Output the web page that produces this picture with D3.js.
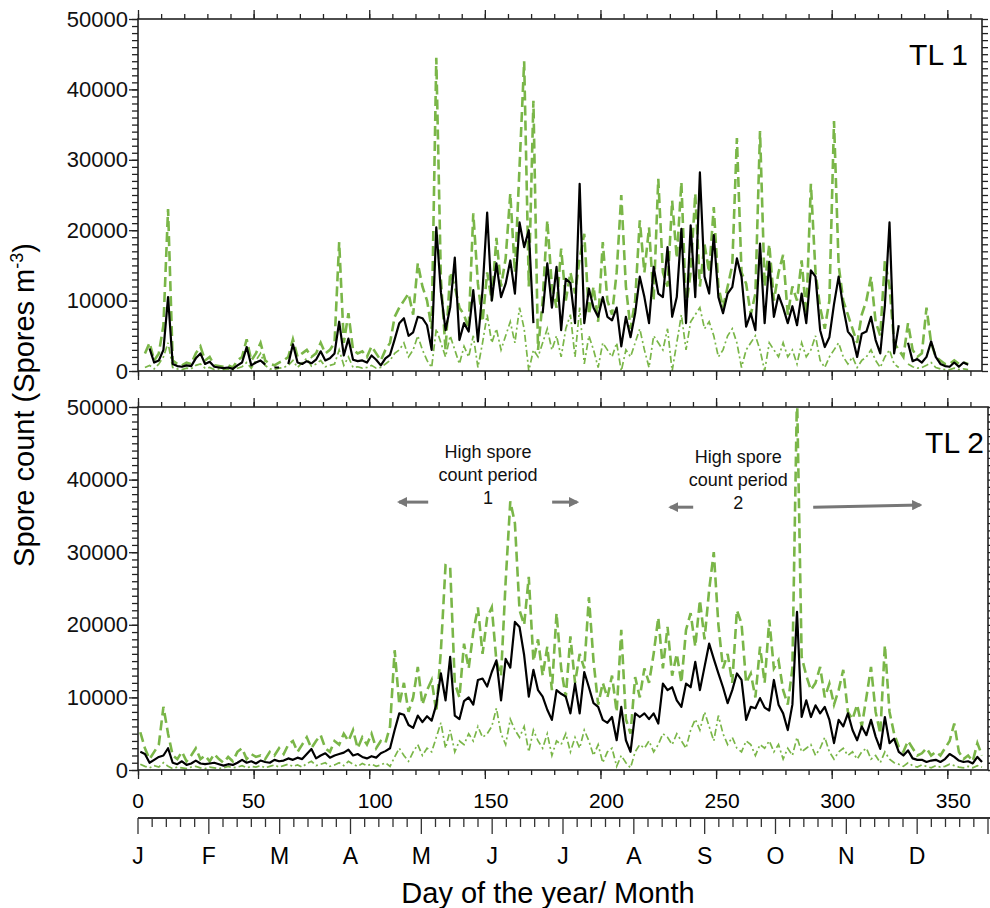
<!DOCTYPE html>
<meta charset="utf-8">
<style>
body { margin: 0; background: #fff; }
svg { font-family: "Liberation Sans", Arial, sans-serif; }
.frame { fill: none; stroke: #222; stroke-width: 1.6px; }
.axis path { display: none; }
.axis line { stroke: #222; stroke-width: 1.3px; }
.axis text { font-size: 22px; fill: #111; font-family: "Liberation Sans", Arial, sans-serif; }
.mean { fill: none; stroke: #000; stroke-width: 2.2px; stroke-linejoin: round; }
.upper { fill: none; stroke: #7ab648; stroke-width: 2.6px; stroke-dasharray: 10,5; }
.lower { fill: none; stroke: #7ab648; stroke-width: 1.7px; stroke-dasharray: 7,3,2,3; }
.note { font-size: 18px; fill: #111; text-anchor: middle; }
.arrow { stroke: #777; stroke-width: 3px; fill: none; }
</style>
<body>
<script src="https://d3js.org/d3.v7.min.js"></script>
<script>

// sample days (every second day of the year)
var days = d3.range(1, 366, 2);

// spore counts, thousands of spores m-3, one value per sample day (null = no data)
// TL 1
var tl1Mean = [
  null, null, 3.2, 1.2, 1.5, 3.0, 10.5, 1.0, 0.7, 0.6,
  0.8, 0.7, 1.8, 2.5, 1.0, 1.3, 0.6, 0.5, 0.4, 0.5,
  0.3, 0.8, 1.2, 3.4, 0.8, 1.2, 1.5, 0.9, null, 0.5,
  0.5, null, 1.0, 3.8, 1.2, 1.0, 1.4, 1.1, 1.6, 2.8,
  1.5, 1.8, 2.5, 7.0, 2.2, 4.6, 1.6, 1.4, 1.5, 1.2,
  2.2, 1.6, 0.8, 1.8, 2.3, 4.5, 6.8, 7.5, 5.0, 5.5,
  7.7, 7.5, 6.5, 3.0, 20.4, 11.2, 5.8, 9.0, 16.1, 4.4,
  6.8, 5.6, 11.5, 4.2, 11.5, 22.5, 10.0, 15.3, 10.5, 12.4,
  15.7, 11.0, 21.1, 17.6, 20.0, 6.8, null, 8.2, 15.3, 9.0,
  14.8, 5.8, 13.1, 12.5, 6.8, 26.6, 6.8, 11.7, 9.0, 7.7,
  10.5, 7.7, 7.2, 9.0, 3.5, 7.7, 4.8, 8.2, 13.4, 10.5,
  6.8, 14.8, 11.0, 10.5, 17.6, 7.7, 10.5, 20.2, 6.8, 20.7,
  10.5, 28.2, 13.4, 11.0, 19.3, 10.5, 8.2, 11.0, 11.9, 16.0,
  13.4, 6.3, 8.2, 5.8, 18.1, 6.8, 15.5, 7.7, 10.8, 9.0,
  6.8, 9.2, 6.5, 11.0, 6.8, 14.3, 13.4, 5.8, 3.4, 4.8,
  9.5, 13.4, 9.0, 5.6, 4.8, 2.0, 5.3, 5.6, 7.7, 4.4,
  2.5, 9.3, 21.1, 2.5, 6.5, null, 4.0, 1.4, 1.7, 1.2,
  2.0, 4.2, 2.0, 1.0, 0.7, 0.6, 1.2, 0.6, 1.2, 0.9,
  null, null, null
];
var tl1Upper = [
  null, 2.5, 4.0, 1.5, 2.5, 6.5, 23.0, 1.5, 1.0, 0.8,
  1.2, 1.0, 2.5, 3.5, 1.5, 2.0, 0.8, 0.7, 0.6, 0.8,
  0.5, 1.5, 2.0, 4.5, 1.5, 2.5, 4.0, 1.5, 1.0, 0.8,
  1.2, 1.5, 2.0, 4.5, 2.0, 2.5, 3.0, 2.0, 2.5, 4.0,
  2.5, 3.0, 4.0, 18.3, 4.0, 8.2, 3.0, 2.5, 2.8, 2.0,
  3.5, 2.5, 1.5, 3.0, 4.0, 7.7, 9.0, 10.0, 11.0, 8.0,
  15.3, 12.0, 10.0, 6.0, 44.5, 13.0, 3.0, 14.0, 12.0, 9.0,
  8.0, 6.0, 22.4, 12.4, 7.0, 14.0, 10.0, 18.9, 12.0, 16.0,
  25.2, 14.0, 29.0, 44.0, 12.0, 38.4, 3.0, 10.0, 21.4, 12.0,
  9.0, 17.4, 10.0, 14.0, 11.0, 16.0, 19.5, 8.0, 12.0, 7.0,
  18.3, 10.0, 8.0, 14.0, 25.0, 12.0, 6.0, 10.0, 21.4, 14.0,
  20.4, 10.0, 27.3, 14.0, 12.0, 24.2, 16.0, 26.8, 9.0, 14.0,
  25.2, 12.0, 18.0, 14.0, 23.3, 12.0, 9.0, 12.0, 15.0, 33.1,
  14.0, 12.4, 8.0, 11.0, 34.1, 12.0, 18.0, 10.0, 14.0, 16.5,
  8.0, 12.0, 10.0, 15.7, 8.0, 26.6, 14.0, 9.0, 6.0, 10.0,
  35.5, 15.0, 10.0, 8.0, 6.0, 4.0, 8.0, 10.0, 13.4, 7.0,
  5.0, 15.7, 12.0, 4.0, 3.0, 2.0, 6.8, 3.0, 2.0, 2.5,
  9.0, 4.0, 2.0, 1.5, 1.0, 1.0, 1.5, 1.0, 1.2, 1.0,
  null, null, null
];
var tl1Lower = [
  null, 0.5, 0.8, 0.3, 1.0, 2.0, 4.0, 0.5, 0.3, 0.2,
  0.4, 0.3, 0.8, 1.0, 0.4, 0.5, 0.2, 0.3, 0.2, 0.3,
  0.1, 0.4, 0.6, 1.2, 0.4, 1.5, 2.5, 0.8, 0.3, 0.2,
  0.4, 0.5, 0.8, 1.5, 0.5, 1.2, 1.8, 0.7, 1.0, 1.5,
  0.6, 0.8, 1.0, 3.0, 0.8, 2.0, 0.5, 0.6, 0.4, 0.5,
  0.8, 0.4, 0.5, 1.0, 1.5, 2.5, 3.0, 4.0, 2.0, 3.0,
  5.0, 3.0, 1.5, 0.5, 6.0, 4.0, 2.0, 5.0, 3.0, 1.0,
  3.5, 2.0, 5.0, 0.5, 4.0, 8.0, 4.0, 6.0, 3.0, 5.0,
  7.0, 4.0, 9.0, 6.0, 0.0, 3.0, 2.0, 4.0, 6.0, 3.0,
  5.0, 2.0, 6.0, 8.0, 2.0, 9.0, 1.0, 5.0, 3.0, 0.5,
  4.0, 3.0, 2.0, 4.0, 0.0, 3.0, 2.0, 4.0, 6.0, 3.0,
  0.5, 5.0, 4.0, 3.0, 6.0, 0.0, 4.0, 8.0, 3.0, 7.0,
  8.0, 9.0, 6.0, 7.0, 5.0, 2.0, 3.0, 5.0, 6.0, 4.0,
  0.5, 3.0, 4.0, 5.0, 3.0, 0.0, 4.0, 3.0, 2.0, 4.0,
  2.0, 3.0, 1.0, 4.0, 2.0, 3.0, 5.0, 1.5, 0.5, 2.0,
  3.0, 4.0, 2.0, 1.0, 2.0, 0.5, 1.5, 2.0, 3.0, 1.5,
  0.5, 2.0, 3.0, 1.0, 0.5, null, 1.0, 0.6, 0.4, 0.5,
  0.8, 1.2, 0.5, 0.3, 0.2, 0.2, 0.4, 0.2, 0.3, 0.2,
  null, null, null
];

// TL 2
var tl2Mean = [
  2.5, 2.2, 1.0, 1.4, 1.8, 2.0, 3.0, 1.0, 0.8, 1.2,
  0.7, 0.9, 1.3, 0.9, 0.8, 0.9, 1.0, 0.8, 0.6, 0.8,
  0.7, 1.0, 1.4, 1.0, 1.2, 0.9, 1.3, 1.1, 1.0, 1.4,
  1.2, 1.3, 1.6, 1.4, 1.7, 1.5, 2.2, 2.9, 1.6, 2.0,
  2.3, 1.7, 2.0, 2.2, 2.4, 2.8, 2.0, 2.2, 1.8, 1.6,
  1.9, 1.7, 2.3, 2.6, 3.0, 5.5, 7.8, 7.6, 6.2, 5.8,
  7.5, 6.6, 7.4, 6.8, 9.0, 13.3, 9.6, 15.6, 7.5, 7.0,
  9.5, 10.0, 9.0, 12.4, 12.6, 11.5, 13.5, 15.1, 9.6, 15.3,
  14.1, 20.4, 19.7, 15.8, 10.1, 13.8, 11.0, 10.1, 8.3, 6.9,
  11.0, 10.5, 10.1, 7.8, 11.9, 7.8, 13.5, 11.4, 9.2, 8.7,
  6.9, 6.5, 7.3, 4.1, 8.7, 4.1, 2.5, 7.8, 7.3, 7.8,
  7.0, 7.8, 6.4, 11.9, 11.0, 11.4, 9.6, 8.7, 11.9, 11.4,
  14.9, 11.0, 14.2, 17.4, 15.3, 13.3, 11.4, 9.2, 11.0, 13.3,
  12.4, 6.9, 8.7, 8.5, 9.9, 8.6, 8.2, 12.4, 9.0, 7.8,
  5.5, 9.0, 21.8, 7.3, 9.6, 7.3, 8.9, 7.8, 8.7, 6.9,
  3.7, 6.9, 6.0, 7.8, 5.5, 4.1, 6.0, 4.8, 6.9, 4.6,
  2.9, 7.3, 3.7, 4.3, 2.5, 2.0, 2.7, 1.6, 1.4, 1.4,
  1.1, 1.3, 1.4, 1.1, 1.5, 2.2, 1.8, 1.3, 1.1, 1.2,
  0.9, 1.8, 1.1
];
var tl2Upper = [
  5.2, 3.0, 1.5, 2.5, 3.5, 8.7, 5.0, 2.0, 1.5, 2.5,
  1.2, 2.0, 3.0, 1.5, 2.0, 1.2, 2.2, 1.5, 1.0, 1.8,
  1.2, 2.5, 3.0, 1.5, 2.2, 1.8, 2.0, 1.5, 2.5, 2.0,
  3.0, 2.2, 3.5, 4.0, 2.5, 3.5, 4.5, 3.0, 4.0, 4.8,
  3.0, 2.5, 4.0, 3.5, 5.0, 4.0, 5.5, 3.0, 4.5, 3.5,
  5.0, 3.0, 4.0, 3.7, 6.0, 16.5, 9.0, 12.0, 8.0, 10.0,
  14.2, 9.0, 11.0, 12.4, 8.0, 16.5, 28.2, 28.0, 12.0, 10.0,
  17.4, 14.0, 19.0, 22.4, 16.0, 21.0, 22.4, 15.0, 13.0, 26.0,
  37.0, 34.0, 22.0, 20.0, 26.6, 15.0, 18.0, 13.0, 17.0, 11.0,
  21.6, 14.0, 10.0, 18.4, 12.0, 16.0, 14.0, 23.8, 15.0, 9.0,
  12.0, 10.0, 13.0, 8.0, 19.3, 7.0, 5.0, 12.8, 10.0, 14.0,
  12.0, 16.0, 21.0, 14.0, 19.7, 13.0, 16.0, 12.0, 19.3, 21.6,
  17.0, 23.4, 18.0, 24.8, 30.0, 20.0, 14.0, 16.0, 12.0, 22.0,
  20.2, 12.0, 13.3, 10.0, 17.0, 12.0, 20.7, 14.0, 15.1, 11.0,
  9.0, 14.0, 52.0, 15.6, 13.0, 11.0, 12.0, 14.2, 10.0, 11.9,
  9.0, 11.0, 13.8, 8.0, 7.0, 9.0, 6.0, 10.0, 14.2, 8.0,
  5.0, 17.2, 8.0, 5.0, 3.2, 2.5, 4.0, 3.0, 2.0, 2.3,
  3.0, 2.0, 2.5, 2.0, 3.0, 4.0, 6.4, 2.5, 1.5, 2.0,
  1.2, 3.7, 2.0
];
var tl2Lower = [
  0.8, 0.5, 0.3, 0.6, 0.4, 1.0, 0.5, 0.2, 0.4, 0.3,
  0.2, 0.4, 0.5, 0.3, 0.2, 0.4, 0.3, 0.2, 0.3, 0.5,
  0.3, 0.4, 0.6, 0.3, 0.5, 0.4, 0.6, 0.3, 0.5, 0.7,
  0.4, 0.6, 0.8, 0.5, 0.7, 0.4, 0.9, 1.2, 0.6, 0.8,
  1.0, 0.5, 0.7, 1.0, 0.6, 1.2, 0.8, 0.5, 0.9, 0.6,
  0.8, 0.5, 0.7, 1.0, 0.5, 1.8, 3.0, 2.0, 1.2, 2.5,
  3.5, 2.0, 3.0, 2.5, 4.5, 6.5, 3.0, 5.5, 2.5, 4.0,
  3.5, 5.0, 4.0, 6.0, 4.5, 5.0, 6.0, 8.5, 5.0, 3.5,
  7.0, 5.5, 4.5, 6.0, 2.5, 5.5, 4.0, 3.0, 5.0, 2.0,
  4.0, 3.5, 5.0, 2.5, 4.5, 3.0, 5.5, 4.0, 2.0, 3.5,
  1.0, 2.5, 3.0, 0.5, 2.0, 1.0, 0.3, 2.5, 3.5, 3.0,
  4.0, 2.5, 3.5, 5.0, 4.5, 3.5, 5.0, 4.0, 3.0, 5.5,
  7.0, 5.5, 8.0, 6.0, 4.0, 7.5, 5.0, 3.5, 4.5, 3.0,
  2.5, 4.0, 3.5, 2.0, 3.5, 3.0, 4.0, 2.5, 3.5, 1.5,
  3.0, 2.0, 4.5, 2.5, 3.0, 3.5, 2.0, 3.0, 4.5, 2.5,
  1.5, 2.5, 3.0, 2.0, 2.5, 1.5, 2.5, 3.0, 1.5, 2.0,
  1.0, 2.5, 1.5, 1.0, 0.8, 0.5, 1.0, 0.6, 0.4, 0.7,
  0.5, 0.3, 0.6, 0.4, 0.5, 0.8, 0.6, 0.4, 0.3, 0.5,
  0.3, 0.6, 0.4
];

// tick labels
var yTicks = [0, 10000, 20000, 30000, 40000, 50000];
var dayTicks = [0, 50, 100, 150, 200, 250, 300, 350];
var months = ["J", "F", "M", "A", "M", "J", "J", "A", "S", "O", "N", "D"];

// annotation text in panel TL 2
var period1Lines = ["High spore", "count period", "1"];
var period2Lines = ["High spore", "count period", "2"];

var svg = d3.select("body").append("svg")
    .attr("width", 990)
    .attr("height", 908);

var defs = svg.append("defs");
defs.append("marker")
    .attr("id", "head")
    .attr("viewBox", "0 0 10 10")
    .attr("refX", 8).attr("refY", 5)
    .attr("markerWidth", 3.4).attr("markerHeight", 3.4)
    .attr("orient", "auto")
  .append("path")
    .attr("d", "M0,0L10,5L0,10Z")
    .attr("fill", "#777");

// shared day scale
var x = d3.scaleLinear().domain([0, 365]).range([138, 982]);

var panels = [
  {label: "TL 1", top: 19, bottom: 371, right: 982, labelX: 968, labelY: 65,
   mean: tl1Mean, upper: tl1Upper, lower: tl1Lower},
  {label: "TL 2", top: 407, bottom: 770, right: 988, labelX: 984, labelY: 453,
   mean: tl2Mean, upper: tl2Upper, lower: tl2Lower}
];

panels.forEach(function(p, i) {
  var y = d3.scaleLinear().domain([0, 50000]).range([p.bottom, p.top]);
  p.y = y;

  svg.append("clipPath").attr("id", "clip" + i)
    .append("rect")
      .attr("x", 138).attr("y", p.top)
      .attr("width", p.right - 138).attr("height", p.bottom - p.top);

  var line = function(vals) {
    return d3.line()
      .defined(function(d) { return d.v != null; })
      .x(function(d) { return x(d.day); })
      .y(function(d) { return y(d.v * 1000); })(days.map(function(day, k) {
        return {day: day, v: vals[k]};
      }));
  };

  var g = svg.append("g").attr("clip-path", "url(#clip" + i + ")");
  g.append("path").attr("class", "lower").attr("d", line(p.lower));
  g.append("path").attr("class", "upper").attr("d", line(p.upper));
  g.append("path").attr("class", "mean").attr("d", line(p.mean));

  // minor / major ticks on all four sides
  var minorY = d3.range(0, 50001, 1000);
  svg.append("g").attr("class", "axis")
      .attr("transform", "translate(138,0)")
      .call(d3.axisLeft(y).tickValues(minorY).tickSize(6).tickFormat(""));
  svg.append("g").attr("class", "axis")
      .attr("transform", "translate(138,0)")
      .call(d3.axisLeft(y).tickValues(yTicks).tickSize(9).tickPadding(1).tickFormat(d3.format("d")));
  svg.append("g").attr("class", "axis")
      .attr("transform", "translate(" + p.right + ",0)")
      .call(d3.axisRight(y).tickValues(minorY).tickSize(6).tickFormat(""));

  var minorX = d3.range(0, 366, 10);
  svg.append("g").attr("class", "axis")
      .attr("transform", "translate(0," + p.top + ")")
      .call(d3.axisTop(x).tickValues(minorX).tickSize(5).tickFormat(""));
  svg.append("g").attr("class", "axis")
      .attr("transform", "translate(0," + p.top + ")")
      .call(d3.axisTop(x).tickValues(dayTicks).tickSize(9).tickFormat(""));
  svg.append("g").attr("class", "axis")
      .attr("transform", "translate(0," + p.bottom + ")")
      .call(d3.axisBottom(x).tickValues(minorX).tickSize(5).tickFormat(""));
  svg.append("g").attr("class", "axis")
      .attr("transform", "translate(0," + p.bottom + ")")
      .call(d3.axisBottom(x).tickValues(dayTicks).tickSize(9).tickFormat(""));

  svg.append("rect").attr("class", "frame")
      .attr("x", 138).attr("y", p.top)
      .attr("width", p.right - 138).attr("height", p.bottom - p.top);

  svg.append("text")
      .attr("x", p.labelX).attr("y", p.labelY)
      .attr("text-anchor", "end")
      .style("font-size", "30px")
      .text(p.label);
});

// day labels under the lower panel
svg.selectAll(".daylab").data(dayTicks).enter().append("text")
    .attr("class", "daylab")
    .attr("x", function(d) { return x(d) + (d >= 100 ? 6 : 0); })
    .attr("y", 808)
    .attr("text-anchor", "middle")
    .style("font-size", "21px")
    .text(function(d) { return d; });

// month axis
var m = d3.scaleLinear().domain([0, 12]).range([138, 988]);
var monthAxis = svg.append("g");
monthAxis.append("line")
    .attr("x1", 138).attr("x2", 990)
    .attr("y1", 818).attr("y2", 818)
    .attr("stroke", "#333").attr("stroke-width", 1.8);
monthAxis.selectAll(".mtick").data(d3.range(0, 12.01, 0.2)).enter().append("line")
    .attr("x1", function(d) { return m(d); })
    .attr("x2", function(d) { return m(d); })
    .attr("y1", 818)
    .attr("y2", function(d) { return Math.abs(d - Math.round(d)) < 0.01 ? 834 : 827; })
    .attr("stroke", "#333").attr("stroke-width", 1.3);
monthAxis.selectAll(".mlab").data(months).enter().append("text")
    .attr("x", function(d, i) { return m(i); })
    .attr("y", 864)
    .attr("text-anchor", "middle")
    .style("font-size", "23px")
    .text(function(d) { return d; });

// axis titles
svg.append("text")
    .attr("x", 548).attr("y", 903)
    .attr("text-anchor", "middle")
    .style("font-size", "29px")
    .text("Day of the year/ Month");

var yt = svg.append("text")
    .attr("transform", "translate(34,405) rotate(-90)")
    .attr("text-anchor", "middle")
    .style("font-size", "29px");
yt.append("tspan").text("Spore count (Spores m");
yt.append("tspan").attr("dy", -11).style("font-size", "18px").text("-3");
yt.append("tspan").attr("dy", 11).text(")");

// high spore count period annotations (TL 2 panel): centre day, level, arrows [from, to, level from, level to]
var y2 = panels[1].y;
var notes = [
  {lines: period1Lines, day: 151.4, level: 43000, arrows: [[125.5, 112.9, 36900, 36900], [179.1, 189.9, 36900, 36900]]},
  {lines: period2Lines, day: 259.6, level: 42300, arrows: [[240.1, 230.2, 36200, 36200], [292.0, 338.3, 36200, 36500]]}
];
notes.forEach(function(n) {
  n.lines.forEach(function(t, k) {
    svg.append("text").attr("class", "note")
        .attr("x", x(n.day))
        .attr("y", y2(n.level) + k * 23)
        .text(t);
  });
  n.arrows.forEach(function(a) {
    svg.append("line").attr("class", "arrow")
        .attr("x1", x(a[0])).attr("y1", y2(a[2]))
        .attr("x2", x(a[1])).attr("y2", y2(a[3]))
        .attr("marker-end", "url(#head)");
  });
});

</script>
</body>
